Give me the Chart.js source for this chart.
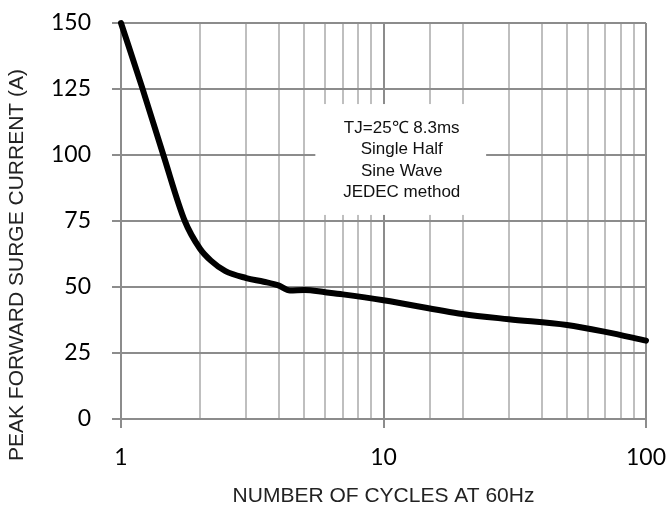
<!DOCTYPE html>
<html>
<head>
<meta charset="utf-8">
<script src="https://cdn.jsdelivr.net/npm/chart.js@4/dist/chart.umd.min.js"></script>
<style>
  html, body { margin: 0; padding: 0; background: #fff; }
  #wrap { width: 671px; height: 511px; }
</style>
</head>
<body>
<div id="wrap"><canvas id="myChart" width="671" height="511"></canvas></div>
<script>
// valores
const ciclos = [1, 1.2, 1.45, 1.75, 2, 2.2, 2.5, 3, 3.5, 4, 4.4, 5, 6, 7, 10, 20, 30, 50, 70, 100];
const corriente = [150, 126, 100, 75, 64.5, 60, 56, 53.4, 52, 50.5, 48.7, 48.9, 48, 47.2, 45, 39.8, 37.8, 35.6, 33, 29.7];
const ticksY = [0, 25, 50, 75, 100, 125, 150];
const etiquetasX = [1, 10, 100];
const tituloY = 'PEAK FORWARD SURGE CURRENT (A)';
const notaTexto = ['TJ=25\u2103 8.3ms', 'Single Half', 'Sine Wave', 'JEDEC method'];
const notaCaja = { xMin: 5.5, xMax: 24.6, yMin: 77.3, yMax: 119.3 };

const gridOscuro = '#8c8c8c';
const gridClaro = '#bfbfbf';

const esDecada = v => etiquetasX.includes(Math.round(v * 1000) / 1000);

// caja de texto blanca encima de la cuadricula
const notaPlugin = {
    id: 'nota',
    beforeDatasetsDraw(chart) {
        const { ctx, scales } = chart;
        const x1 = scales.x.getPixelForValue(notaCaja.xMin);
        const x2 = scales.x.getPixelForValue(notaCaja.xMax);
        const y1 = scales.y.getPixelForValue(notaCaja.yMax);
        const y2 = scales.y.getPixelForValue(notaCaja.yMin);
        ctx.save();
        ctx.fillStyle = '#fff';
        ctx.fillRect(x1, y1, x2 - x1, y2 - y1);
        ctx.fillStyle = '#111';
        ctx.font = '17px "Liberation Sans", Arial, sans-serif';
        ctx.textAlign = 'center';
        ctx.textBaseline = 'middle';
        const cx = (x1 + x2) / 2 + 1;
        const cy = (y1 + y2) / 2 + 1;
        const paso = 21.5;
        notaTexto.forEach((linea, i) => {
            ctx.fillText(linea, cx, cy + (i - (notaTexto.length - 1) / 2) * paso);
        });
        ctx.restore();
    },
    // titulo del eje Y, algo desplazado hacia abajo como en el original
    afterDraw(chart) {
        const { ctx, chartArea } = chart;
        ctx.save();
        ctx.translate(17, (chartArea.top + chartArea.bottom) / 2 + 44);
        ctx.rotate(-Math.PI / 2);
        ctx.fillStyle = '#222';
        ctx.font = '21px "Liberation Sans", Arial, sans-serif';
        ctx.textAlign = 'center';
        ctx.textBaseline = 'middle';
        ctx.fillText(tituloY, 0, 0);
        ctx.restore();
    }
};

const ctx = document.getElementById('myChart');

new Chart(ctx.getContext('2d'), {
    type: 'line',
    data: {
        datasets: [{
            data: ciclos.map((c, i) => ({ x: c, y: corriente[i] })),
            borderColor: '#000',
            borderWidth: 6,
            pointRadius: 0,
            cubicInterpolationMode: 'monotone',
            borderCapStyle: 'round',
            borderJoinStyle: 'round',
            clip: false
        }]
    },
    options: {
        responsive: false,
        animation: false,
        layout: { autoPadding: false, padding: { top: 23, right: 25, left: 0, bottom: 0 } },
        plugins: {
            legend: { display: false },
            tooltip: { enabled: false }
        },
        scales: {
            x: {
                type: 'logarithmic',
                min: 1,
                max: 100,
                afterFit: s => { s.height = 92; s.paddingLeft = 0; s.paddingRight = 0; },
                grid: {
                    lineWidth: 2,
                    color: c => esDecada(c.tick.value) ? gridOscuro : gridClaro,
                    tickColor: c => esDecada(c.tick.value) ? gridOscuro : 'rgba(0,0,0,0)',
                    tickLength: 9
                },
                border: { color: gridOscuro, width: 2 },
                ticks: {
                    autoSkip: false,
                    maxRotation: 0,
                    padding: 16,
                    color: '#000',
                    font: { family: 'Lato, "Open Sans", sans-serif', size: 23 },
                    callback: v => esDecada(v) ? String(v) : ''
                },
                title: {
                    display: true,
                    text: 'NUMBER OF CYCLES AT 60Hz',
                    color: '#222',
                    font: { family: '"Liberation Sans", Arial, sans-serif', size: 21 },
                    padding: { top: 0, bottom: 2 }
                }
            },
            y: {
                min: 0,
                max: 150,
                afterFit: s => { s.width = 121; s.paddingTop = 0; s.paddingBottom = 0; },
                afterBuildTicks: s => { s.ticks = ticksY.map(v => ({ value: v })); },
                grid: {
                    lineWidth: 2,
                    color: gridOscuro,
                    tickLength: 9
                },
                border: { color: gridOscuro, width: 2 },
                ticks: {
                    padding: 21,
                    color: '#000',
                    font: { family: 'Lato, "Open Sans", sans-serif', size: 23 }
                }
            }
        }
    },
    plugins: [notaPlugin]
});
</script>
</body>
</html>
